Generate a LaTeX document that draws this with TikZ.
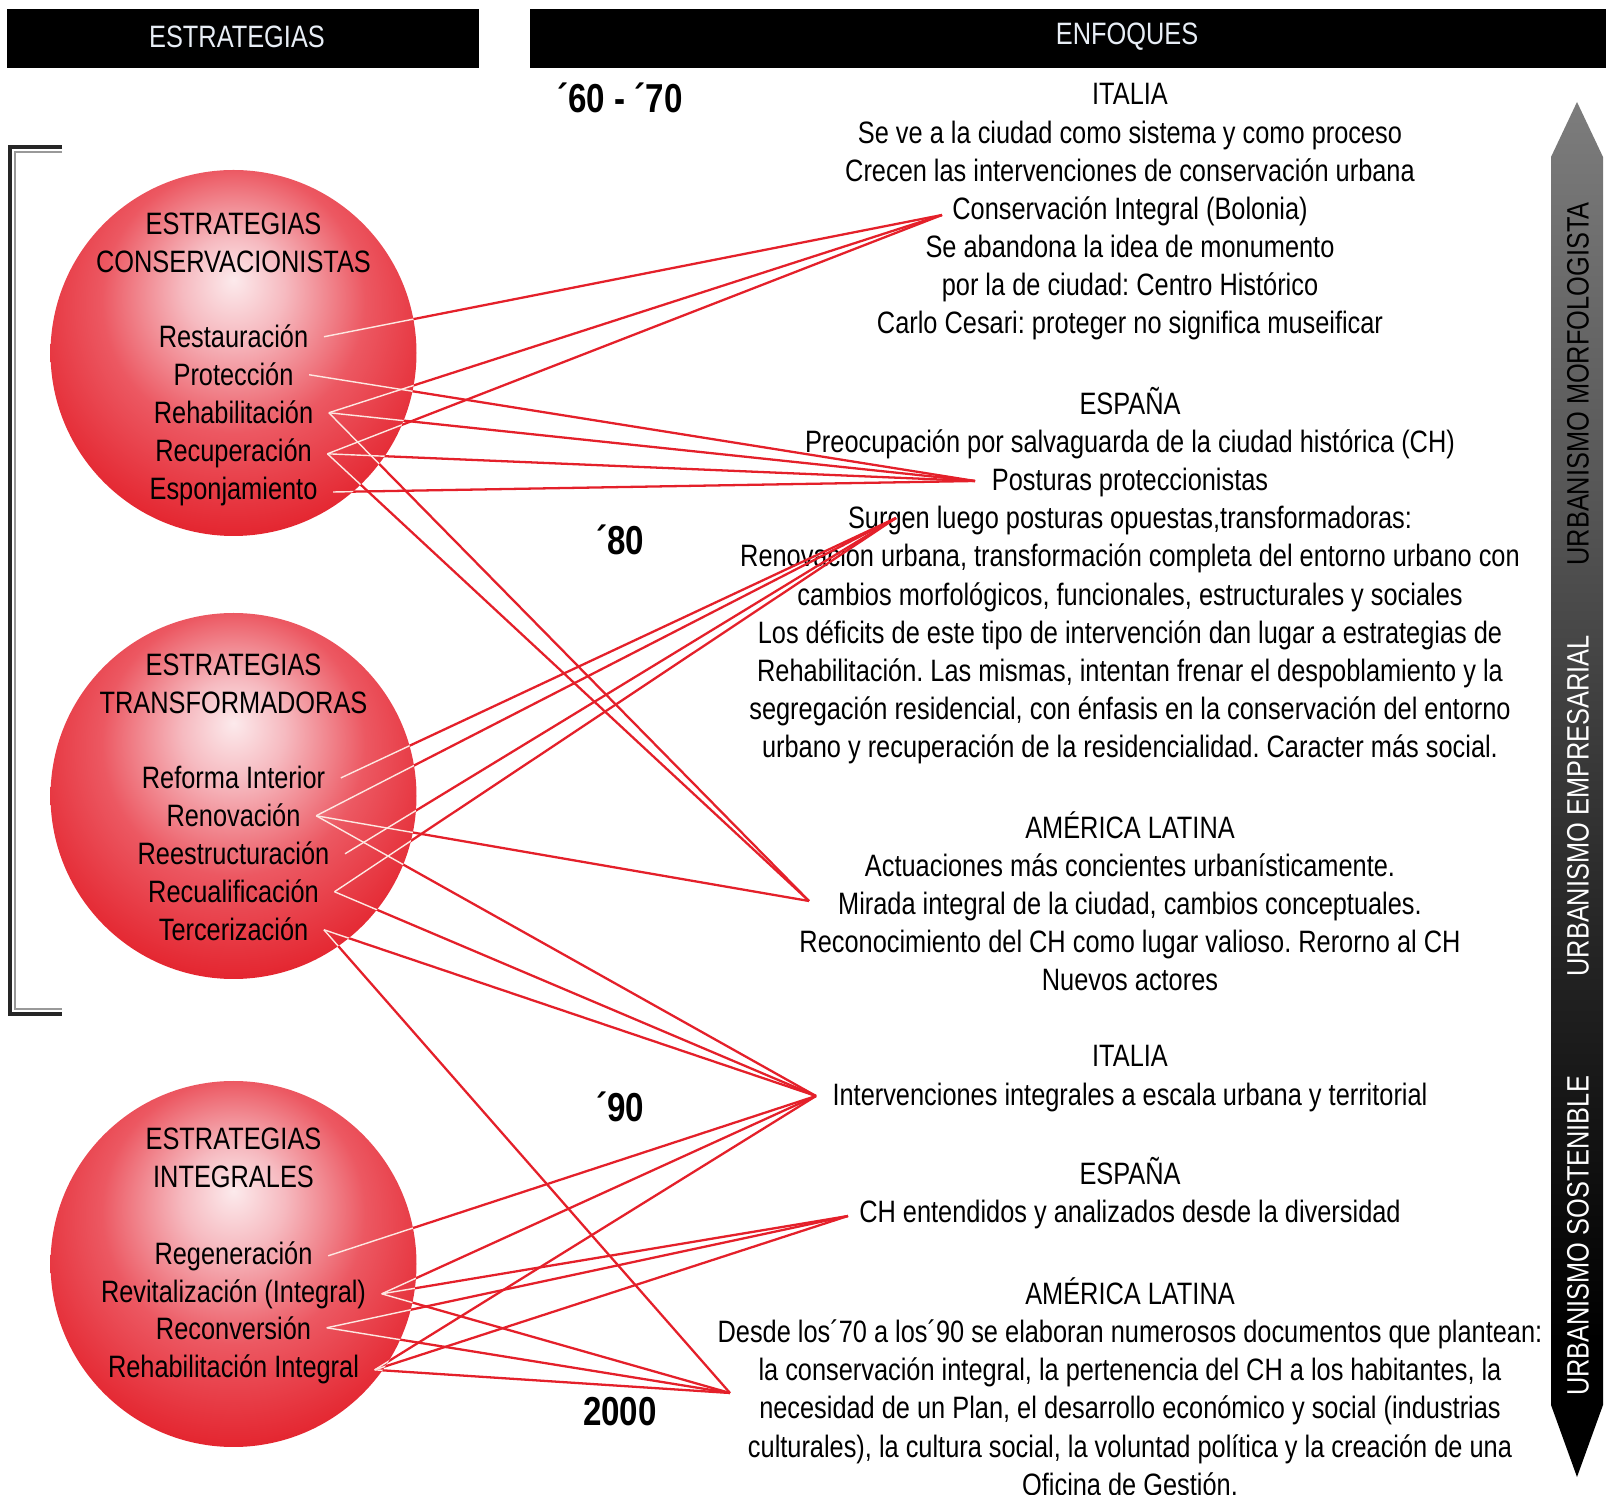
\documentclass[tikz,border=0pt]{standalone}
\usepackage{fontspec}
\setmainfont[FakeStretch=0.82]{Liberation Sans}
\frenchspacing

\definecolor{linkred}{RGB}{228,32,42}
\definecolor{palelink}{RGB}{253,232,226}
\definecolor{ballcore}{RGB}{252,234,236}
\definecolor{ballsoft}{RGB}{246,186,192}
\definecolor{ballmid}{RGB}{236,88,98}
\definecolor{ballred}{RGB}{228,38,48}
\definecolor{ballrim}{RGB}{218,26,36}
\definecolor{headtext}{RGB}{232,238,246}

\pgfdeclareradialshading{redball}{\pgfpoint{0bp}{10bp}}{%
  color(0bp)=(ballcore); color(7bp)=(ballsoft); color(18bp)=(ballmid);
  color(30bp)=(ballred); color(62bp)=(ballrim)}
\pgfdeclareverticalshading{urbbar}{100bp}{%
  color(0bp)=(black); color(30bp)=(black); color(45bp)=(black!85);
  color(60bp)=(black!67); color(78bp)=(black!48); color(100bp)=(black!18)}

\tikzset{
  headtxt/.style={text=headtext, font=\fontsize{8.8pt}{10pt}\selectfont, inner sep=0pt},
  enfline/.style={font=\fontsize{8.8pt}{10.8pt}\selectfont, anchor=base, inner sep=0pt},
  strball/.style={circle, minimum size=3.66cm, inner sep=0pt, outer sep=0pt, shade, shading=redball},
  strtitle/.style={align=center, font=\fontsize{8.8pt}{10.8pt}\selectfont, inner sep=0pt},
  stritem/.style={font=\fontsize{8.8pt}{10.8pt}\selectfont, anchor=base, inner ysep=0pt, inner xsep=1.5mm},
  yearlbl/.style={font=\fontsize{11.5pt}{12pt}\selectfont\bfseries, inner sep=0pt},
  linkline/.style={linkred, line width=0.65pt},
  palestroke/.style={palelink, line width=0.4pt},
  urblbl/.style={rotate=90, font=\fontsize{8.8pt}{10pt}\selectfont, inner sep=0pt},
}

% strategy item -> enfoque point
\newcommand\strlinks{restaur/foc-cons, protec/foc-post, rehab/foc-cons, rehab/foc-post,
  rehab/foc-amer, recup/foc-cons, recup/foc-post, recup/foc-amer, espon/foc-post,
  reforma/foc-surg, renov/foc-surg, renov/foc-amer, renov/foc-inter, reestr/foc-surg,
  recual/foc-surg, recual/foc-inter, tercer/foc-inter, tercer/foc-desde,
  regen/foc-inter, revital/foc-inter, revital/foc-ch, revital/foc-desde,
  reconv/foc-ch, reconv/foc-desde, rehabint/foc-inter, rehabint/foc-ch, rehabint/foc-desde}

\begin{document}
\begin{tikzpicture}[x=0.1mm, y=-0.1mm]
\useasboundingbox (0,0) rectangle (1606,1495);
% Header bars
\fill[black] (7,9) rectangle (479,68);
\fill[black] (530,9) rectangle (1606,68);
\node[headtxt] (hd-estr) at (237,37) {ESTRATEGIAS};
\node[headtxt] (hd-enf) at (1127,37) {ENFOQUES};
% Decades
\node[yearlbl] (yr-60) at (620,98) {´60 - ´70};
\node[yearlbl] (yr-80) at (620,540) {´80};
\node[yearlbl] (yr-90) at (620,1107) {´90};
\node[yearlbl] (yr-00) at (620,1412) {2000};
% Bracket on the left
\draw[black!85, line width=1pt] (62,147) -- (10,147) -- (10,1014) -- (62,1014);
\draw[black!40, line width=0.4pt] (62,152) -- (15,152) -- (15,1009) -- (62,1009);
% Vertical arrow
\shade[shading=urbbar] (1577,102) -- (1603,157) -- (1603,1405) -- (1577,1477)
  -- (1551,1405) -- (1551,157) -- cycle;
\node[urblbl, text=black] (urb-morf) at (1578,384) {URBANISMO MORFOLOGISTA};
\node[urblbl, text=white] (urb-empr) at (1578,806) {URBANISMO EMPRESARIAL};
\node[urblbl, text=white] (urb-sost) at (1578,1236) {URBANISMO SOSTENIBLE};
% Circles
\node[strball] (cons) at (233.5,353) {};
\node[strball] (trans) at (233.5,796) {};
\node[strball] (integ) at (233.5,1264) {};
\node[strtitle] (cons-t) at (233.5,243) {ESTRATEGIAS\\CONSERVACIONISTAS};
\node[stritem] (restaur) at (233.5,348) {Restauración};
\node[stritem] (protec) at (233.5,386) {Protección};
\node[stritem] (rehab) at (233.5,424) {Rehabilitación};
\node[stritem] (recup) at (233.5,462) {Recuperación};
\node[stritem] (espon) at (233.5,500) {Esponjamiento};
\node[strtitle] (trans-t) at (233.5,684) {ESTRATEGIAS\\TRANSFORMADORAS};
\node[stritem] (reforma) at (233.5,789) {Reforma Interior};
\node[stritem] (renov) at (233.5,827) {Renovación};
\node[stritem] (reestr) at (233.5,865) {Reestructuración};
\node[stritem] (recual) at (233.5,903) {Recualificación};
\node[stritem] (tercer) at (233.5,941) {Tercerización};
\node[strtitle] (integ-t) at (233.5,1158) {ESTRATEGIAS\\INTEGRALES};
\node[stritem] (regen) at (233.5,1264) {Regeneración};
\node[stritem] (revital) at (233.5,1302) {Revitalización (Integral)};
\node[stritem] (reconv) at (233.5,1339) {Reconversión};
\node[stritem] (rehabint) at (233.5,1378) {Rehabilitación Integral};
% Enfoques text
\foreach \lne [count=\i from 0] in {ITALIA, Se ve a la ciudad como sistema y como proceso,
    Crecen las intervenciones de conservación urbana, Conservación Integral (Bolonia),
    Se abandona la idea de monumento, por la de ciudad: Centro Histórico,
    Carlo Cesari: proteger no significa museificar}
  \node[enfline] (ita-\i) at (1130,105+38.1*\i) {\lne};
\foreach \lne [count=\i from 0] in {ESPAÑA, Preocupación por salvaguarda de la ciudad histórica (CH),
    Posturas proteccionistas, {Surgen luego posturas opuestas,transformadoras:},
    {Renovación urbana, transformación completa del entorno urbano con},
    {cambios morfológicos, funcionales, estructurales y sociales},
    Los déficits de este tipo de intervención dan lugar a estrategias de,
    {Rehabilitación. Las mismas, intentan frenar el despoblamiento y la},
    {segregación residencial, con énfasis en la conservación del entorno},
    urbano y recuperación de la residencialidad. Caracter más social.}
  \node[enfline] (esp-\i) at (1130,414.6+38.1*\i) {\lne};
\foreach \lne [count=\i from 0] in {AMÉRICA LATINA, Actuaciones más concientes urbanísticamente.,
    {Mirada integral de la ciudad, cambios conceptuales.},
    Reconocimiento del CH como lugar valioso. Rerorno al CH, Nuevos actores}
  \node[enfline] (ame-\i) at (1130,838.6+38.1*\i) {\lne};
\foreach \lne [count=\i from 0] in {ITALIA, Intervenciones integrales a escala urbana y territorial}
  \node[enfline] (ita2-\i) at (1130,1067+38.1*\i) {\lne};
\foreach \lne [count=\i from 0] in {ESPAÑA, CH entendidos y analizados desde la diversidad}
  \node[enfline] (esp2-\i) at (1130,1184.8+38.1*\i) {\lne};
\foreach \lne [count=\i from 0] in {AMÉRICA LATINA,
    Desde los´70 a los´90 se elaboran numerosos documentos que plantean:,
    {la conservación integral, la pertenencia del CH a los habitantes, la},
    {necesidad de un Plan, el desarrollo económico y social (industrias},
    {culturales), la cultura social, la voluntad política y la creación de una},
    Oficina de Gestión.}
  \node[enfline] (ame2-\i) at (1130,1304.6+38.1*\i) {\lne};
% Points where the connectors meet
\coordinate (foc-cons) at (942,215);
\coordinate (foc-post) at (975,481);
\coordinate (foc-surg) at (896,518);
\coordinate (foc-amer) at (809,901);
\coordinate (foc-inter) at (816,1096);
\coordinate (foc-ch) at (848,1216);
\coordinate (foc-desde) at (730,1393);
% Connectors: red outside the circles
\begin{scope}[even odd rule]
  \clip (0,0) rectangle (1606,1495)
    (cons.center) circle[radius=1.83cm] (trans.center) circle[radius=1.83cm]
    (integ.center) circle[radius=1.83cm];
  \foreach \src/\dst in \strlinks
    \draw[linkline] (\src.east) -- (\dst);
\end{scope}
% ... and pale inside them
\begin{scope}
  \clip (cons.center) circle[radius=1.83cm] (trans.center) circle[radius=1.83cm]
    (integ.center) circle[radius=1.83cm];
  \foreach \src/\dst in \strlinks
    \draw[palestroke] (\src.east) -- (\dst);
\end{scope}
\end{tikzpicture}
\end{document}
